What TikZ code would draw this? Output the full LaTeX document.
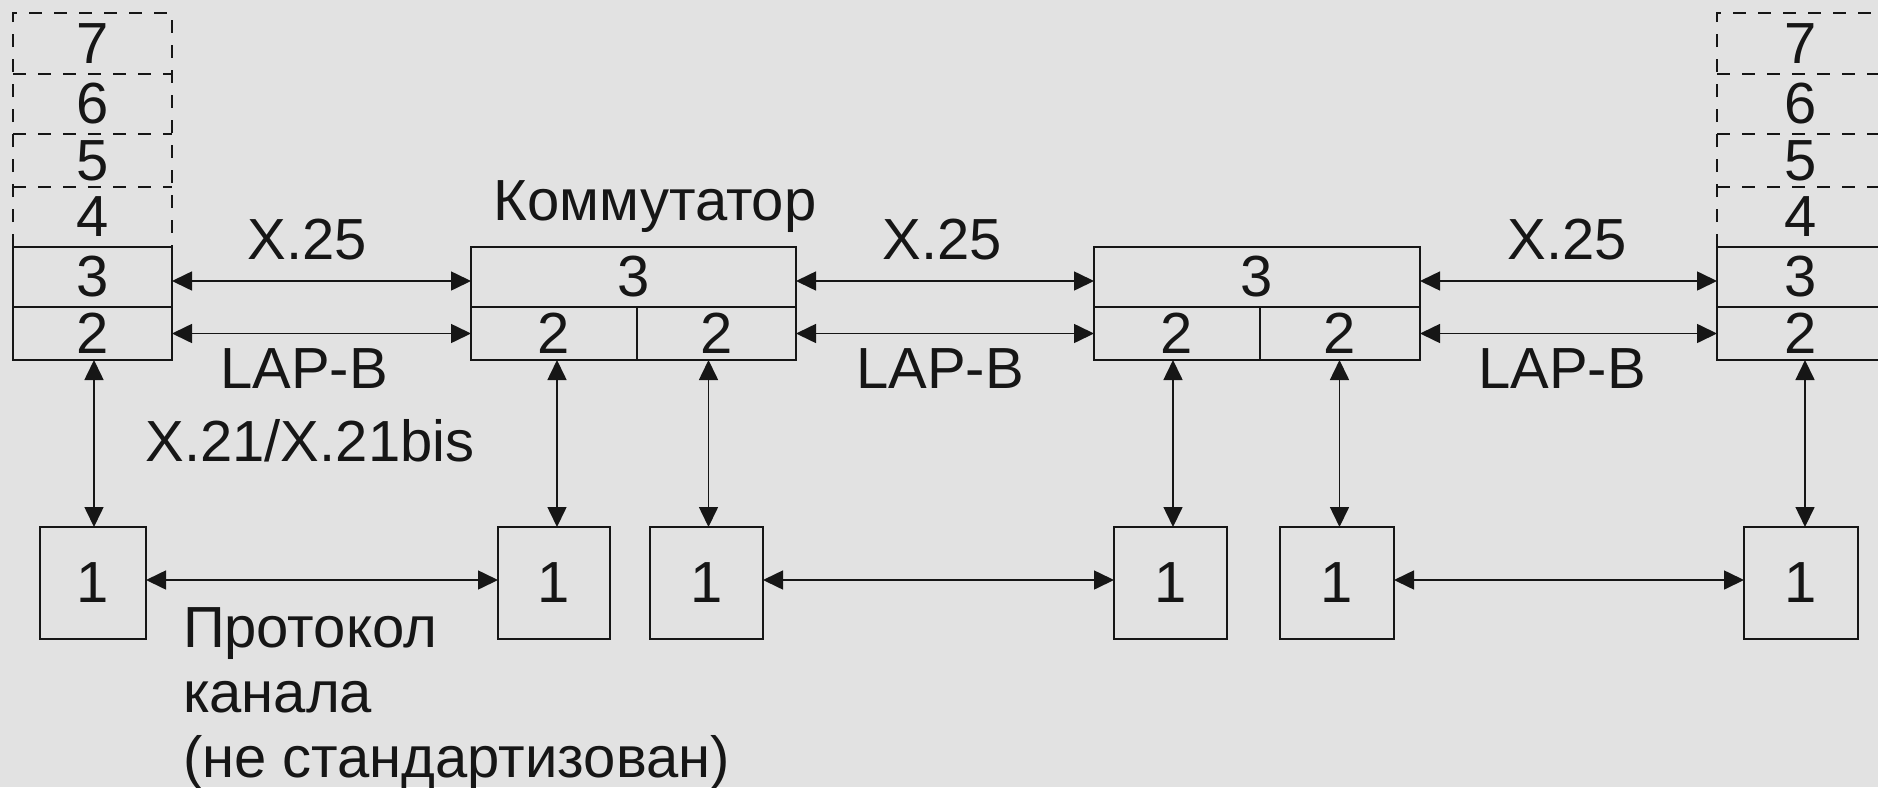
\documentclass[tikz,border=0pt]{standalone}
\usepackage{fontspec}
\setmainfont{Liberation Sans}
\usetikzlibrary{arrows.meta}
\definecolor{bg}{RGB}{226,226,226}
\definecolor{ink}{RGB}{22,22,22}
\begin{document}
\begin{tikzpicture}[x=0.5pt,y=-0.5pt,
  every node/.style={font=\fontsize{29}{34}\selectfont, text=ink, inner sep=0pt, outer sep=0pt},
  pbox/.style 2 args={minimum width=#1*0.5pt, minimum height=#2*0.5pt},
  cellbox/.style={draw=ink, line width=0.8pt},
  dashline/.style={draw=ink, line width=0.8pt, dash pattern=on 6.5pt off 6pt},
  link/.style={draw=ink, line width=0.8pt, {Triangle[length=10pt,width=9.5pt]}-{Triangle[length=10pt,width=9.5pt]}},
  lbl/.style={anchor=base}]
\useasboundingbox (0,0) rectangle (1878,787);
\fill[bg] (0,0) rectangle (1878,787);
\clip (0,0) rectangle (1878,787);

% left end system stack
\node[pbox={159}{61}] (L7) at (92.5,43.5) {7};
\node[pbox={159}{60}] (L6) at (92.5,104) {6};
\node[pbox={159}{53}] (L5) at (92.5,160.5) {5};
\node[pbox={159}{60}] (L4) at (92.5,217) {4};
\node[cellbox,pbox={159}{60}] (L3) at (92.5,277) {3};
\node[cellbox,pbox={159}{53}] (L2) at (92.5,333.5) {2};
\draw[dashline] (L4.south west) -- (L7.north west) -- (L7.north east) -- (L4.south east);
\draw[dashline] (L7.south west) -- (L7.south east);
\draw[dashline] (L6.south west) -- (L6.south east);
\draw[dashline] (L5.south west) -- (L5.south east);

% right end system stack
\node[pbox={168}{61}] (R7) at (1801,43.5) {7};
\node[pbox={168}{60}] (R6) at (1801,104) {6};
\node[pbox={168}{53}] (R5) at (1801,160.5) {5};
\node[pbox={168}{60}] (R4) at (1801,217) {4};
\node[cellbox,pbox={168}{60}] (R3) at (1801,277) {3};
\node[cellbox,pbox={168}{53}] (R2) at (1801,333.5) {2};
\draw[dashline] (R4.south west) -- (R7.north west) -- (R7.north east) -- (R4.south east);
\draw[dashline] (R7.south west) -- (R7.south east);
\draw[dashline] (R6.south west) -- (R6.south east);
\draw[dashline] (R5.south west) -- (R5.south east);

% switch 1
\node[cellbox,pbox={325}{60}] (S1t) at (633.5,277) {3};
\node[cellbox,pbox={166}{53}] (S1a) at (554,333.5) {2};
\node[cellbox,pbox={159}{53}] (S1b) at (716.5,333.5) {2};
\node[lbl] (kom) at (655,220) {Коммутатор};

% switch 2
\node[cellbox,pbox={326}{60}] (S2t) at (1257,277) {3};
\node[cellbox,pbox={166}{53}] (S2a) at (1177,333.5) {2};
\node[cellbox,pbox={160}{53}] (S2b) at (1340,333.5) {2};

% physical layer boxes
\node[cellbox,pbox={106}{112}] (B1) at (93,583) {1};
\node[cellbox,pbox={112}{112}] (B2) at (554,583) {1};
\node[cellbox,pbox={113}{112}] (B3) at (706.5,583) {1};
\node[cellbox,pbox={113}{112}] (B4) at (1170.5,583) {1};
\node[cellbox,pbox={114}{112}] (B5) at (1337,583) {1};
\node[cellbox,pbox={114}{112}] (B6) at (1801,583) {1};

% horizontal links, layer 3 and 2
\draw[link] ([yshift=-2pt]L3.east) -- ([yshift=-2pt]S1t.west);
\draw[link] (L2.east) -- (S1a.west);
\draw[link] ([yshift=-2pt]S1t.east) -- ([yshift=-2pt]S2t.west);
\draw[link] (S1b.east) -- (S2a.west);
\draw[link] ([yshift=-2pt]S2t.east) -- ([yshift=-2pt]R3.west);
\draw[link] (S2b.east) -- (R2.west);

% vertical links
\draw[link] ([xshift=0.5pt]B1.north |- L2.south) -- ([xshift=0.5pt]B1.north);
\draw[link] ([xshift=1.5pt]B2.north |- S1a.south) -- ([xshift=1.5pt]B2.north);
\draw[link] ([xshift=1pt]B3.north |- S1b.south) -- ([xshift=1pt]B3.north);
\draw[link] ([xshift=1.25pt]B4.north |- S2a.south) -- ([xshift=1.25pt]B4.north);
\draw[link] ([xshift=1.25pt]B5.north |- S2b.south) -- ([xshift=1.25pt]B5.north);
\draw[link] ([xshift=2pt]B6.north |- R2.south) -- ([xshift=2pt]B6.north);

% physical links
\draw[link] ([yshift=1.5pt]B1.east) -- ([yshift=1.5pt]B2.west);
\draw[link] ([yshift=1.5pt]B3.east) -- ([yshift=1.5pt]B4.west);
\draw[link] ([yshift=1.5pt]B5.east) -- ([yshift=1.5pt]B6.west);

% labels
\node[lbl] (x1) at (307,259) {X.25};
\node[lbl] (x2) at (942,259) {X.25};
\node[lbl] (x3) at (1567,259) {X.25};
\node[lbl] (lb1) at (304,388) {LAP-B};
\node[lbl] (lb2) at (940,388) {LAP-B};
\node[lbl] (lb3) at (1562,388) {LAP-B};
\node[lbl] (x21) at (310,461) {X.21/X.21bis};
\node[anchor=base west] (t1) at (183,647) {Протокол};
\node[anchor=base west] (t2) at (183,712) {канала};
\node[anchor=base west] (t3) at (183,777) {(не стандартизован)};
\end{tikzpicture}
\end{document}
